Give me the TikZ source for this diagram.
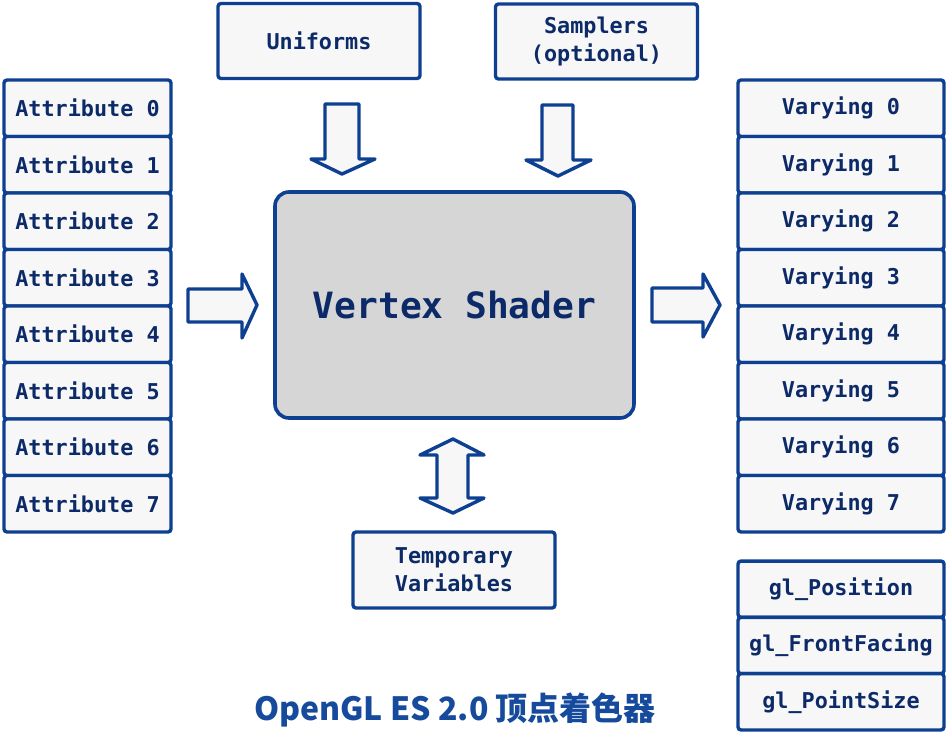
\documentclass[tikz,border=0pt]{standalone}
\usepackage{fontspec}
\setmonofont{DejaVu Sans Mono}
\newfontfamily\titlefont{Noto Sans CJK SC}
\definecolor{strokeblue}{RGB}{14,64,146}
\definecolor{textnavy}{RGB}{12,42,104}
\definecolor{boxfill}{RGB}{247,247,247}
\definecolor{shaderfill}{RGB}{214,214,214}
\definecolor{titleblue}{RGB}{22,74,156}
\tikzset{
  cell/.style={draw=strokeblue, line width=3.4pt, fill=boxfill, rounded corners=3pt,
    inner sep=0pt, text=textnavy, font=\ttfamily\bfseries\fontsize{21.8}{28}\selectfont, align=center},
  attr/.style={cell, minimum width=167pt, minimum height=56.5pt},
  vary/.style={cell, minimum width=206pt, minimum height=56.5pt},
  glbox/.style={cell, minimum width=206pt, minimum height=56.3pt},
  topbox/.style={cell, minimum width=202pt, minimum height=75pt},
  shader/.style={draw=strokeblue, line width=3.6pt, fill=shaderfill, rounded corners=14pt,
    inner sep=0pt, minimum width=359pt, minimum height=226pt, text=textnavy,
    font=\ttfamily\bfseries\fontsize{36.2}{40}\selectfont},
  blockarrow/.style={draw=strokeblue, line width=3.4pt, fill=boxfill, line join=round},
}
\begin{document}
\begin{tikzpicture}[x=1pt,y=-1pt]
\fill[white] (0,0) rectangle (948,747);
\useasboundingbox (0,0) rectangle (948,747);

% top boxes
\node[topbox] (uni) at (319,41) {Uniforms};
\node[topbox] (samp) at (596.5,41.5) {Samplers\\(optional)};

% shader
\node[shader] (vs) at (454.5,305) {Vertex Shader};

% attributes
\foreach \i in {0,...,7} {
  \node[attr] (a\i) at (87.5,{108.25+56.5*\i}) {Attribute \i};
}
% varyings
\foreach \i in {0,...,7} {
  \node[vary] (v\i) at (841,{108.25+56.5*\i}) {Varying \i};
}
% gl builtins
\node[glbox] (glp) at (841,589.2) {gl\_Position};
\node[glbox] (glf) at (841,645.5) {gl\_FrontFacing};
\node[glbox] (gls) at (841,701.8) {gl\_PointSize};

% temporary
\node[topbox, minimum height=76pt] (tmp) at (454,570) {Temporary\\Variables};

% arrows
\draw[blockarrow] (325,104) -- (359,104) -- (359,159) -- (375,159) -- (342,174)
  -- (311,159) -- (325,159) -- cycle;
\draw[blockarrow] (542,105) -- (573,105) -- (573,160) -- (591,160) -- (558,176)
  -- (526,160) -- (542,160) -- cycle;
\draw[blockarrow] (188,289) -- (242,289) -- (242,274) -- (257,305) -- (242,338)
  -- (242,322) -- (188,322) -- cycle;
\draw[blockarrow] (652,288) -- (703,288) -- (703,274) -- (720,305) -- (703,337)
  -- (703,322) -- (652,322) -- cycle;
\draw[blockarrow] (453,439) -- (484,455) -- (468,455) -- (468,498) -- (484,498)
  -- (453,513) -- (420,498) -- (437,498) -- (437,455) -- (420,455) -- cycle;

% title
\node[text=titleblue, font=\titlefont\bfseries\fontsize{32}{36}\selectfont, inner sep=0pt]
  (title) at (455,710) {OpenGL ES 2.0 顶点着色器};
\end{tikzpicture}
\end{document}
